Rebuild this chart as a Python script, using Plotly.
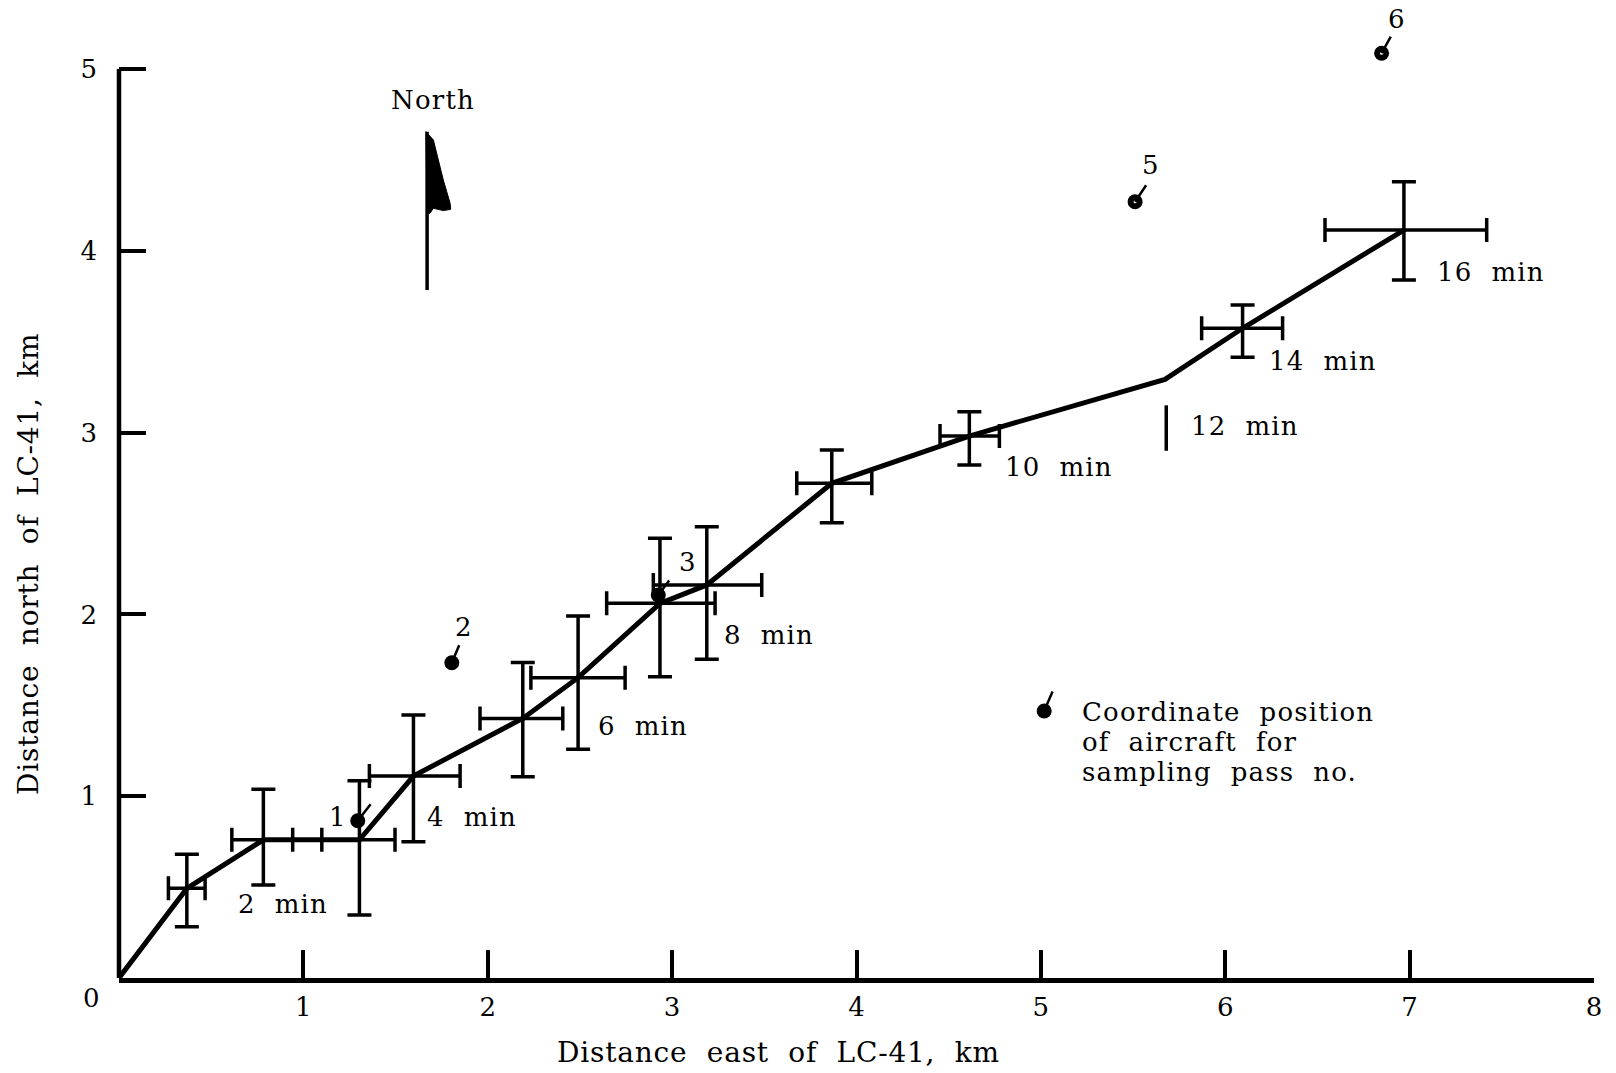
import plotly.graph_objects as go

FONT = "DejaVu Serif"

# ---------------------------------------------------------------------------
# Cloud-centre fixes (km east / km north of LC-41) with uncertainty limits
# ---------------------------------------------------------------------------
fix_minute = [1, 2, 3, 4, 5, 6, 7, 8, 9, 10, 14, 16]
fix_east = [0.368, 0.783, 1.304, 1.597, 2.190, 2.490, 2.934, 3.188, 3.866, 4.612, 6.094, 6.969]
fix_north = [0.493, 0.760, 0.760, 1.111, 1.428, 1.652, 2.061, 2.162, 2.721, 2.981, 3.574, 4.114]
east_low = [0.268, 0.612, 1.100, 1.358, 1.958, 2.234, 2.645, 2.898, 3.676, 4.453, 5.872, 6.541]
east_high = [0.467, 0.942, 1.497, 1.850, 2.407, 2.745, 3.233, 3.486, 4.083, 4.775, 6.311, 7.418]
north_low = [0.282, 0.512, 0.347, 0.750, 1.107, 1.258, 1.657, 1.753, 2.504, 2.822, 3.414, 3.839]
north_high = [0.681, 1.038, 1.085, 1.447, 1.736, 1.991, 2.419, 2.482, 2.904, 3.115, 3.702, 4.380]

# 12-min fix: a track vertex plus an uncapped north-south bar
fix12_east, fix12_north = 5.673, 3.293
bar12_east, bar12_low, bar12_high = 5.680, 2.90, 3.15

# Minutes that carry a text label along the track
labelled_minutes = [2, 4, 6, 8, 10, 12, 14, 16]

# Aircraft sampling passes
pass_no = [1, 2, 3, 5, 6]
pass_east = [1.295, 1.805, 2.925, 5.511, 6.848]
pass_north = [0.865, 1.734, 2.107, 4.270, 5.087]

# Key symbol
key_east, key_north = 5.018, 1.469
key_lines = ["Coordinate  position", "of  aircraft  for", "sampling  pass  no."]

x_ticks = [1, 2, 3, 4, 5, 6, 7, 8]
y_ticks = [1, 2, 3, 4, 5]

# ---------------------------------------------------------------------------
# Layout constants (pixels)
# ---------------------------------------------------------------------------
W, H = 1616, 1073
M_L, M_R, M_T, M_B = 119, 22, 8, 95
X_MAX = 8.0
Y_TOP = 5.0
PX_PER_KM_Y = 181.8
Y_MAX = (H - M_B - M_T) / PX_PER_KM_Y

# text offsets from the mark they describe, (dx, dy) px, dy positive = up
minute_label_offset = {2: (-27, -64), 4: (12, -41), 6: (18, -48), 8: (15, -50),
                       10: (34, -31), 12: (24, -47), 14: (24, -33), 16: (31, -42)}
pass_label_offset = {1: (-20, 4), 2: (12, 36), 3: (29, 33), 5: (15, 37), 6: (15, 34)}
pass_leader = {1: (14, 18), 2: (8, 19), 3: (12, 16), 5: (12, 18), 6: (10, 18)}
key_leader = (9, 21)

# north flag (pole + pennant) in km
flag_pole = [(1.671, 3.784), (1.671, 4.655)]
flag_pennant = [(1.665, 4.655), (1.705, 4.610), (1.759, 4.389), (1.796, 4.261),
                (1.799, 4.228), (1.759, 4.221), (1.705, 4.234), (1.687, 4.206),
                (1.671, 4.208)]


def spaced(text, ls=1.2):
    return f'<span style="letter-spacing:{ls}px">{text}</span>'


def nb(text):
    return text.replace(" ", "\u00a0")


# ---------------------------------------------------------------------------
fig = go.Figure()

# track of the cloud centre
track_east = [0.0] + fix_east[:10] + [fix12_east] + fix_east[10:]
track_north = [0.0] + fix_north[:10] + [fix12_north] + fix_north[10:]
fig.add_trace(go.Scatter(x=track_east, y=track_north, mode="lines",
                         line=dict(color="black", width=5),
                         hoverinfo="skip", showlegend=False))

# uncertainty crosses
fig.add_trace(go.Scatter(
    x=fix_east, y=fix_north, mode="markers",
    marker=dict(size=5, color="black"),
    error_x=dict(type="data", symmetric=False,
                 array=[h - c for h, c in zip(east_high, fix_east)],
                 arrayminus=[c - l for c, l in zip(fix_east, east_low)],
                 color="black", thickness=3.5, width=12),
    error_y=dict(type="data", symmetric=False,
                 array=[h - c for h, c in zip(north_high, fix_north)],
                 arrayminus=[c - l for c, l in zip(fix_north, north_low)],
                 color="black", thickness=3.5, width=12),
    hoverinfo="skip", showlegend=False))

# 12-min bar
fig.add_trace(go.Scatter(
    x=[bar12_east], y=[(bar12_low + bar12_high) / 2], mode="markers",
    marker=dict(size=1, color="rgba(0,0,0,0)"),
    error_y=dict(type="data", array=[(bar12_high - bar12_low) / 2],
                 color="black", thickness=3.5, width=0),
    hoverinfo="skip", showlegend=False))

# sampling-pass positions and key symbol
fig.add_trace(go.Scatter(x=pass_east + [key_east], y=pass_north + [key_north],
                         mode="markers", marker=dict(size=15, color="black"),
                         cliponaxis=False, hoverinfo="skip", showlegend=False))
fig.add_trace(go.Scatter(x=pass_east[3:], y=pass_north[3:], mode="markers",
                         marker=dict(size=3, color="white"),
                         cliponaxis=False, hoverinfo="skip", showlegend=False))

annotations = []
label_font = dict(family=FONT, size=26, color="black")

for m in labelled_minutes:
    if m == 12:
        px, py = fix12_east, fix12_north
    else:
        i = fix_minute.index(m)
        px, py = fix_east[i], fix_north[i]
    dx, dy = minute_label_offset[m]
    annotations.append(dict(x=px, y=py, xref="x", yref="y", text=spaced(nb(f"{m}  min")),
                            showarrow=False, xanchor="left", yanchor="middle",
                            xshift=dx, yshift=dy, font=label_font))

for n, px, py in zip(pass_no, pass_east, pass_north):
    dx, dy = pass_label_offset[n]
    annotations.append(dict(x=px, y=py, xref="x", yref="y", text=str(n),
                            showarrow=False, xanchor="center", yanchor="middle",
                            xshift=dx, yshift=dy, font=label_font))
    lx, ly = pass_leader[n]
    annotations.append(dict(x=px, y=py, xref="x", yref="y", text="",
                            showarrow=True, arrowhead=0, arrowwidth=2.5,
                            arrowcolor="black", ax=lx, ay=-ly, standoff=0))

annotations.append(dict(x=key_east, y=key_north, xref="x", yref="y", text="",
                        showarrow=True, arrowhead=0, arrowwidth=2.5,
                        arrowcolor="black", ax=key_leader[0], ay=-key_leader[1], standoff=0))
for k, line in enumerate(key_lines):
    annotations.append(dict(x=key_east, y=key_north, xref="x", yref="y",
                            text=spaced(nb(line)), showarrow=False,
                            xanchor="left", yanchor="middle",
                            xshift=36, yshift=-1 - 30 * k, font=label_font))

# north marker label
annotations.append(dict(x=flag_pole[1][0], y=flag_pole[1][1], xref="x", yref="y",
                        text=spaced("North"), showarrow=False, xanchor="center",
                        yanchor="middle", xshift=6, yshift=32, font=label_font))

# axis titles and origin label
title_font = dict(family=FONT, size=28, color="black")
annotations.append(dict(x=(778 - M_L) / (W - M_L - M_R), y=0, xref="paper", yref="paper",
                        text=spaced(nb("Distance  east  of  LC-41,  km"), 0.8),
                        showarrow=False, xanchor="center", yanchor="middle",
                        yshift=-74, font=title_font))
annotations.append(dict(x=0, y=(H - M_B - 564) / (H - M_B - M_T), xref="paper", yref="paper",
                        text=spaced(nb("Distance  north  of  LC-41,  km"), 0.8),
                        textangle=-90, showarrow=False, xanchor="center", yanchor="middle",
                        xshift=-91, font=title_font))
annotations.append(dict(x=0, y=0, xref="paper", yref="paper", text="0",
                        showarrow=False, xanchor="center", yanchor="middle",
                        xshift=-28, yshift=-20, font=dict(family=FONT, size=26, color="black")))

shapes = [
    # vertical axis, running up to the 5-km tick only
    dict(type="line", xref="paper", yref="paper", x0=0, x1=0, y0=0, y1=Y_TOP / Y_MAX,
         line=dict(color="black", width=4.5)),
    dict(type="line", xref="x", yref="y", x0=flag_pole[0][0], x1=flag_pole[1][0],
         y0=flag_pole[0][1], y1=flag_pole[1][1], line=dict(color="black", width=3.5)),
    dict(type="path", xref="x", yref="y",
         path="M " + " L ".join(f"{x},{y}" for x, y in flag_pennant) + " Z",
         fillcolor="black", line=dict(color="black", width=1)),
]

fig.update_layout(
    width=W, height=H,
    margin=dict(l=M_L, r=M_R, t=M_T, b=M_B, autoexpand=False),
    paper_bgcolor="white", plot_bgcolor="white",
    annotations=annotations, shapes=shapes,
    showlegend=False,
)
fig.update_xaxes(range=[0, X_MAX], showgrid=False, zeroline=False,
                 showline=True, linewidth=4.5, linecolor="black",
                 ticks="inside", ticklen=28, tickwidth=3.5, tickcolor="black",
                 tickvals=x_ticks, ticktext=[str(t) for t in x_ticks],
                 ticklabelstandoff=2,
                 tickfont=dict(family=FONT, size=26, color="black"))
fig.update_yaxes(range=[0, Y_MAX], showgrid=False, zeroline=False,
                 showline=False,
                 ticks="inside", ticklen=27, tickwidth=3.5, tickcolor="black",
                 tickvals=y_ticks, ticktext=[str(t) for t in y_ticks],
                 ticklabelstandoff=21,
                 tickfont=dict(family=FONT, size=26, color="black"))

fig.write_html("out.html")
